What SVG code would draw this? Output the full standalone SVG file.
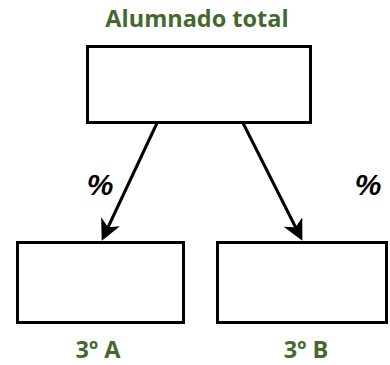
<svg xmlns="http://www.w3.org/2000/svg" width="390" height="365" viewBox="0 0 390 365">
<style>
.box{fill:#fff;stroke:#000;stroke-width:3}
.lbl{font-family:"Open Sans","Liberation Sans",sans-serif;font-weight:bold;fill:#44692f;text-anchor:middle}
.pct{font-family:"Liberation Sans",sans-serif;font-weight:bold;font-style:italic;font-size:30px;fill:#000;text-anchor:middle}
.con{stroke:#000;stroke-width:3;fill:none;marker-end:url(#ah)}
</style>
<defs>
<marker id="ah" markerWidth="7" markerHeight="7" refX="6" refY="3.5" orient="auto" markerUnits="strokeWidth">
<path d="M0,0 L7,3.5 L0,7 L2,3.5 Z" fill="#000"/>
</marker>
</defs>
<rect width="390" height="365" fill="#fff"/>
<g id="connectors">
<line class="con" x1="157" y1="123" x2="103" y2="238"/>
<line class="con" x1="243" y1="123" x2="301" y2="238"/>
<text class="pct" x="100" y="195">%</text>
<text class="pct" x="368" y="195">%</text>
</g>
<g id="total">
<text class="lbl" x="197" y="27" font-size="23.5">Alumnado total</text>
<rect class="box" x="87.5" y="46.5" width="223" height="76"/>
</g>
<g id="grupoA">
<rect class="box" x="17.5" y="242.5" width="166" height="80"/>
<text class="lbl" x="98" y="358" font-size="23.5">3º A</text>
</g>
<g id="grupoB">
<rect class="box" x="217.5" y="242.5" width="169" height="80"/>
<text class="lbl" x="306" y="358" font-size="23.5">3º B</text>
</g>
</svg>
